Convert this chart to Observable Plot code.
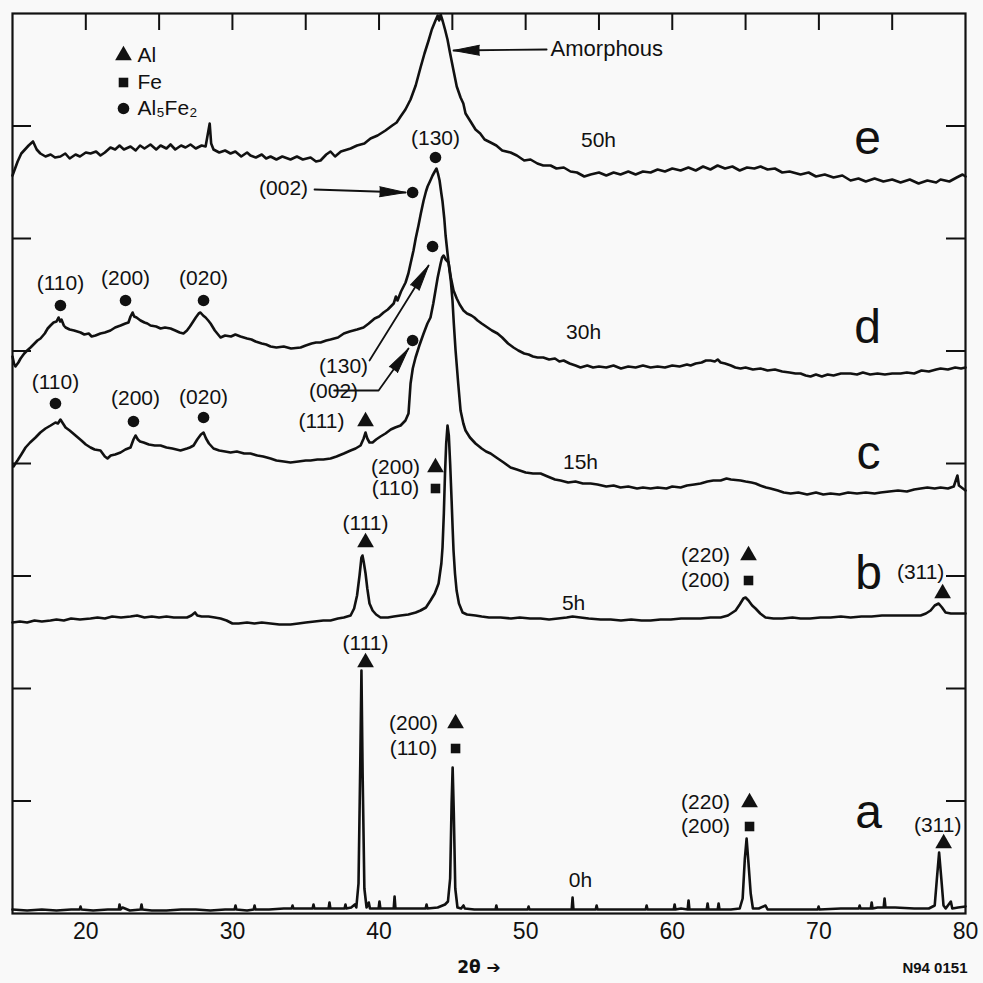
<!DOCTYPE html>
<html>
<head>
<meta charset="utf-8">
<script src="https://cdn.jsdelivr.net/npm/d3@7"></script>
<script src="https://cdn.jsdelivr.net/npm/@observablehq/plot@0.6"></script>
<style>
  html, body { margin: 0; padding: 0; background: #f9f9f9; }
  #chart svg { display: block; background: #f9f9f9; }
</style>
</head>
<body>
<div id="chart"></div>
<script>
// ---------------- DATA (2θ in degrees, intensity in arbitrary counts, traces stacked) ----------------
const trace50h = [[15.00,738],[15.15,744],[15.35,752],[15.6,760],[15.85,764],[16.1,768],[16.4,772],[16.65,764],[16.9,760],[17.25,757],[17.6,759],[17.9,756],[18.27,757],[18.6,760],[18.9,755],[19.3,759],[19.6,757],[20.0,761],[20.32,760],[20.7,762],[21.0,758],[21.3,761],[21.68,766],[22.0,764],[22.3,768],[22.6,764],[23.05,767],[23.4,763],[23.7,768],[24.0,765],[24.41,769],[24.8,764],[25.1,768],[25.5,765],[25.78,769],[26.1,764],[26.5,768],[26.8,766],[27.14,769],[27.5,765],[27.9,768],[28.17,767],[28.45,790],[28.55,770],[28.71,764],[29.1,761],[29.5,763],[29.87,760],[30.2,762],[30.6,757],[31.0,761],[31.23,758],[31.6,756],[32.0,759],[32.3,755],[32.6,757],[33.0,754],[33.4,757],[33.96,754],[34.4,757],[34.8,754],[35.33,756],[35.7,752],[36.01,753],[36.4,759],[36.69,762],[37.0,757],[37.4,762],[38.06,765],[38.5,768],[39.0,770],[39.42,775],[39.9,778],[40.44,783],[40.9,788],[41.2,791],[41.47,797],[41.8,804],[42.15,814],[42.5,828],[42.83,846],[43.1,860],[43.38,873],[43.6,884],[43.85,893],[44.0,898],[44.1,893],[44.2,899],[44.35,892],[44.5,884],[44.67,874],[44.85,860],[45.08,843],[45.3,827],[45.56,816],[45.75,810],[45.9,800],[46.2,793],[46.58,784],[46.9,780],[47.2,774],[47.61,771],[48.0,768],[48.4,763],[48.97,761],[49.4,758],[49.9,753],[50.33,754],[50.8,750],[51.2,748],[51.7,748],[52.1,745],[52.6,746],[53.06,742],[53.5,741],[54.0,737],[54.43,739],[55.0,741],[55.5,738],[56.0,741],[56.47,739],[57.0,742],[57.5,739],[58.0,742],[58.52,741],[59.0,744],[59.5,742],[60.0,745],[60.57,743],[61.1,746],[61.6,743],[62.1,747],[62.6,744],[63.09,748],[63.6,745],[64.1,747],[64.6,743],[65.1,746],[65.6,745],[66.02,747],[66.5,744],[67.0,745],[67.5,741],[68.0,742],[68.75,739],[69.3,741],[69.8,737],[70.4,739],[71.0,736],[71.6,738],[72.16,733],[72.7,735],[73.2,732],[73.8,735],[74.4,732],[75.0,734],[75.57,731],[76.2,734],[76.8,730],[77.4,733],[78.0,731],[78.3,734],[78.9,732],[79.4,736],[79.8,739],[80.0,737]];

const trace30h = [[15.00,557],[15.1,550],[15.2,547],[15.4,551],[15.55,555],[15.8,560],[16.0,563],[16.23,566],[16.5,570],[16.7,573],[16.91,575],[17.2,580],[17.4,585],[17.59,588],[17.8,591],[18.0,592],[18.14,596],[18.25,592],[18.34,594],[18.5,588],[18.62,586],[18.9,584],[19.2,583],[19.64,581],[19.9,579],[20.2,580],[20.4,577],[20.66,578],[21.0,580],[21.3,581],[21.68,583],[22.0,586],[22.37,588],[22.7,590],[22.91,591],[23.05,597],[23.19,601],[23.3,597],[23.46,596],[23.73,593],[24.0,591],[24.2,590],[24.41,588],[24.8,587],[25.1,585],[25.4,586],[25.78,585],[26.1,583],[26.4,581],[26.66,580],[26.9,583],[27.1,587],[27.28,591],[27.5,596],[27.7,600],[27.82,601],[28.0,598],[28.17,596],[28.35,593],[28.51,590],[28.8,583],[29.19,576],[29.5,578],[29.9,577],[30.2,579],[30.55,577],[31.0,575],[31.3,574],[31.58,572],[32.0,570],[32.3,569],[32.6,567],[33.0,566],[33.5,567],[34.0,565],[34.65,566],[35.0,568],[35.4,570],[35.7,571],[36.01,571],[36.4,573],[36.69,574],[37.2,576],[37.6,580],[38.0,582],[38.5,584],[38.94,586],[39.3,590],[39.7,595],[40.0,597],[40.31,601],[40.6,604],[41.0,610],[41.15,617],[41.26,613],[41.5,622],[41.81,631],[42.0,640],[42.15,650],[42.35,663],[42.5,675],[42.69,688],[42.85,700],[43.04,713],[43.2,722],[43.31,727],[43.5,733],[43.65,738],[43.8,742],[43.92,745],[44.02,740],[44.13,733],[44.25,720],[44.33,712],[44.45,695],[44.54,678],[44.65,663],[44.74,651],[44.9,636],[45.08,623],[45.3,615],[45.5,609],[45.76,603],[46.0,600],[46.3,598],[46.5,596],[46.72,593],[47.0,590],[47.4,586],[47.7,583],[48.08,580],[48.4,576],[48.8,570],[49.17,566],[49.5,563],[49.9,560],[50.2,559],[50.5,557],[50.81,556],[51.2,556],[51.6,554],[52.0,555],[52.3,552],[52.59,553],[53.0,550],[53.4,548],[53.74,546],[54.2,548],[54.6,546],[55.0,547],[55.5,546],[55.99,548],[56.5,545],[57.0,547],[57.5,546],[58.0,548],[58.52,546],[59.0,547],[59.5,546],[60.0,548],[60.5,547],[61.0,549],[61.25,548],[61.6,550],[62.0,551],[62.3,553],[62.61,553],[62.9,552],[63.1,554],[63.3,551],[63.6,550],[64.0,548],[64.3,546],[64.66,545],[65.0,546],[65.5,544],[66.02,545],[66.5,543],[67.0,544],[67.5,542],[68.0,541],[68.4,540],[68.75,540],[69.1,538],[69.43,537],[69.8,539],[70.2,537],[70.6,539],[71.0,538],[71.5,540],[72.16,540],[72.6,539],[73.0,541],[73.5,539],[74.0,540],[74.5,539],[75.0,540],[75.57,540],[76.0,541],[76.5,540],[77.0,543],[77.5,542],[78.0,544],[78.3,545],[78.8,544],[79.3,546],[79.7,545],[80.0,546]];

const trace15h = [[15.07,447],[15.2,450],[15.34,453],[15.6,459],[15.89,466],[16.2,471],[16.57,476],[16.9,481],[17.25,485],[17.6,488],[17.93,491],[18.1,490],[18.27,494],[18.4,491],[18.62,486],[18.9,483],[19.3,478],[19.7,473],[20.0,469],[20.32,466],[20.6,464],[21.0,463],[21.3,457],[21.48,455],[21.7,458],[22.0,459],[22.37,461],[22.7,464],[23.05,466],[23.25,474],[23.39,478],[23.55,474],[23.7,472],[23.94,471],[24.3,469],[24.7,468],[25.1,468],[25.5,466],[25.9,465],[26.46,463],[26.9,465],[27.1,466],[27.35,468],[27.6,474],[27.85,479],[28.03,481],[28.2,475],[28.4,470],[28.71,465],[29.1,463],[29.5,462],[29.87,461],[30.3,462],[30.8,460],[31.23,460],[31.7,458],[32.1,457],[32.6,455],[33.0,453],[33.5,452],[33.96,451],[34.5,452],[35.0,453],[35.33,453],[35.8,454],[36.2,454],[36.69,455],[37.1,457],[37.6,460],[38.06,463],[38.4,465],[38.74,468],[38.95,475],[39.08,481],[39.2,475],[39.35,471],[39.56,471],[39.8,474],[40.1,477],[40.44,480],[40.8,484],[41.1,486],[41.47,488],[41.8,493],[42.01,500],[42.15,530],[42.3,545],[42.49,556],[42.75,568],[43.04,580],[43.3,590],[43.51,596],[43.7,610],[43.85,623],[44.0,636],[44.2,650],[44.3,656],[44.4,658],[44.55,654],[44.74,651],[44.9,632],[45.01,613],[45.1,590],[45.22,563],[45.4,530],[45.56,503],[45.75,490],[45.90,483],[46.2,476],[46.58,470],[47.0,465],[47.3,462],[47.61,460],[48.0,456],[48.5,451],[48.97,446],[49.4,444],[50.0,441],[50.5,440],[51.02,440],[51.5,437],[52.0,434],[52.38,433],[52.9,431],[53.4,432],[53.9,430],[54.43,430],[54.9,429],[55.5,427],[56.0,428],[56.47,426],[57.0,427],[57.6,425],[58.0,426],[58.52,425],[59.0,426],[59.6,425],[60.0,427],[60.57,426],[61.0,428],[61.5,429],[61.93,430],[62.4,432],[62.8,433],[63.3,433],[63.7,435],[64.0,434],[64.66,433],[65.0,432],[65.4,431],[65.68,430],[66.0,428],[66.4,426],[66.7,425],[67.2,423],[67.6,421],[68.07,420],[68.6,421],[69.2,419],[69.8,421],[70.3,419],[70.8,420],[71.4,419],[72.0,421],[72.6,420],[73.2,421],[73.8,420],[74.21,421],[74.8,422],[75.4,423],[76.0,422],[76.5,424],[76.94,425],[77.4,426],[77.9,425],[78.3,426],[78.8,425],[79.2,427],[79.45,438],[79.55,428],[79.73,426],[80.0,423]];

const trace5h = [[15.00,291],[15.5,292],[16.0,291],[16.5,293],[17.0,292],[17.59,293],[18.0,294],[18.5,293],[19.0,295],[19.6,294],[20.32,295],[20.8,296],[21.3,295],[21.8,297],[22.4,296],[23.05,297],[23.5,298],[24.0,296],[24.5,297],[25.0,296],[25.5,297],[26.0,296],[26.46,296],[26.9,296],[27.2,298],[27.45,301],[27.6,298],[27.9,297],[28.37,297],[28.8,296],[29.19,295],[29.6,293],[30.0,290],[30.42,290],[31.0,291],[31.5,290],[32.0,291],[32.6,290],[33.2,289],[33.96,289],[34.5,290],[35.0,291],[35.6,292],[36.2,293],[36.69,293],[37.2,295],[37.6,296],[38.06,298],[38.3,305],[38.5,318],[38.67,338],[38.8,356],[38.87,358],[38.95,352],[39.08,340],[39.2,325],[39.35,310],[39.56,303],[39.8,299],[40.10,296],[40.6,296],[41.0,297],[41.47,298],[42.0,299],[42.5,301],[42.83,303],[43.2,306],[43.51,313],[43.8,320],[44.06,330],[44.25,350],[44.33,366],[44.42,400],[44.5,440],[44.58,470],[44.67,488],[44.76,478],[44.85,450],[44.95,413],[45.02,385],[45.08,363],[45.18,340],[45.29,323],[45.45,310],[45.70,301],[46.0,299],[46.58,298],[47.0,297],[47.5,296],[48.29,296],[49.0,295],[49.6,296],[50.3,295],[51.02,295],[51.6,294],[52.2,295],[52.8,296],[53.2,297],[53.74,296],[54.3,295],[55.11,294],[55.8,294],[56.5,293],[57.2,294],[57.9,293],[58.52,293],[59.2,294],[59.9,294],[60.6,295],[61.3,295],[61.93,295],[62.6,296],[63.30,296],[63.8,298],[64.32,303],[64.6,309],[64.85,315],[65.0,316],[65.2,313],[65.45,308],[65.68,305],[66.0,300],[66.36,296],[66.9,295],[67.5,295],[68.2,296],[68.75,295],[69.4,295],[70.1,296],[70.8,296],[71.5,297],[72.16,296],[72.9,297],[73.6,297],[74.3,298],[75.0,298],[75.7,298],[76.3,298],[76.94,298],[77.3,300],[77.62,303],[77.9,308],[78.17,310],[78.4,306],[78.64,301],[79.0,300],[79.5,300],[80.0,300]];

const trace0h = [[15,4],[16,3],[17,4],[18,3],[19,4],[19.58,4],[19.64,7],[19.7,4],[20.5,3],[21.5,4],[22.25,4],[22.3,9],[22.36,4],[22.5,6],[23.0,3],[23.74,4],[23.8,9],[23.86,4],[24.5,3],[25.5,3],[26.5,4],[27.5,4],[28.5,3],[29.5,4],[30.15,4],[30.21,8],[30.27,4],[31.0,3],[31.45,4],[31.51,8],[31.57,4],[32.5,4],[33.5,5],[34.04,5],[34.1,8],[34.16,5],[35.0,5],[35.47,5],[35.53,9],[35.59,5],[36.0,5],[36.56,5],[36.62,11],[36.68,5],[37.2,5],[37.65,5],[37.71,9],[37.77,5],[38.1,6],[38.35,9],[38.45,6],[38.6,30],[38.72,150],[38.8,243],[38.88,140],[39.0,25],[39.15,6],[39.3,11],[39.38,5],[39.6,5],[39.97,5],[40.03,12],[40.09,5],[40.5,5],[41.0,5],[41.06,17],[41.12,5],[41.8,5],[42.5,5],[43.18,5],[43.24,9],[43.3,5],[44.0,6],[44.5,9],[44.7,12],[44.85,35],[44.95,110],[45.02,146],[45.1,100],[45.2,25],[45.35,6],[45.6,5],[45.76,8],[45.85,5],[46.5,4],[47.2,4],[47.95,4],[48.0,8],[48.06,4],[49.0,4],[50.14,4],[50.2,7],[50.26,4],[51.5,4],[52.5,4],[53.14,4],[53.2,16],[53.26,4],[54.0,4],[54.78,4],[54.84,8],[54.9,4],[56,4],[57.0,4],[58.19,4],[58.25,8],[58.31,4],[59.5,4],[60.1,4],[60.16,9],[60.22,4],[60.6,5],[61.05,4],[61.11,13],[61.17,4],[61.8,4],[62.35,4],[62.41,10],[62.47,4],[63.1,4],[63.16,10],[63.22,4],[64.0,4],[64.6,5],[64.8,15],[64.95,55],[65.07,75],[65.2,50],[65.35,20],[65.5,5],[65.9,5],[66.36,8],[66.5,4],[67.5,4],[68.5,4],[69.92,4],[69.98,7],[70.04,4],[71.5,5],[72.72,5],[72.78,8],[72.84,5],[73.54,5],[73.6,11],[73.66,5],[74.0,6],[74.42,6],[74.48,15],[74.54,6],[75.2,6],[76.5,5],[77.5,5],[77.9,8],[78.05,35],[78.2,61],[78.35,35],[78.5,8],[78.65,5],[79.0,12],[79.1,5],[79.5,6],[80.0,7]];

const seriesNames = ["0h", "5h", "15h", "30h", "50h"];

// x tick labels (bottom) and inner tick marks (top / sides)
const xTickLabels = [20, 30, 40, 50, 60, 70, 80];
const xTopTicks = [20, 25, 30, 35, 40, 45, 50, 55, 60, 65, 70, 75];
const yTicks = [112.5, 225, 337.5, 450, 562.5, 675, 787.5];

// legend
const legendKeys = [
  {t: 22.57, i: 858, phase: "Al", name: "Al"},
  {t: 22.57, i: 831, phase: "Fe", name: "Fe"},
  {t: 22.57, i: 805, phase: "Al5Fe2", name: "Al₅Fe₂"}
];

// Miller-index labels (text centre)
const hklLabels = [
  {t: 43.85, i: 775, text: "(130)"},
  {t: 33.49, i: 725, text: "(002)"},
  {t: 18.27, i: 630, text: "(110)"},
  {t: 22.71, i: 635, text: "(200)"},
  {t: 28.03, i: 635, text: "(020)"},
  {t: 17.93, i: 531, text: "(110)"},
  {t: 23.39, i: 515, text: "(200)"},
  {t: 28.03, i: 516, text: "(020)"},
  {t: 37.58, i: 547, text: "(130)"},
  {t: 36.90, i: 522, text: "(002)"},
  {t: 36.08, i: 492, text: "(111)"},
  {t: 41.13, i: 446, text: "(200)"},
  {t: 41.13, i: 425, text: "(110)"},
  {t: 39.08, i: 390, text: "(111)"},
  {t: 62.27, i: 358, text: "(220)"},
  {t: 62.27, i: 333, text: "(200)"},
  {t: 76.94, i: 341, text: "(311)"},
  {t: 39.08, i: 270, text: "(111)"},
  {t: 42.35, i: 190, text: "(200)"},
  {t: 42.35, i: 165, text: "(110)"},
  {t: 62.27, i: 111, text: "(220)"},
  {t: 62.27, i: 87,  text: "(200)"},
  {t: 78.10, i: 88,  text: "(311)"}
];

// phase markers
const peakMarkers = [
  {t: 43.85, i: 756, phase: "Al5Fe2"},
  {t: 42.29, i: 721, phase: "Al5Fe2"},
  {t: 18.27, i: 608, phase: "Al5Fe2"},
  {t: 22.71, i: 613, phase: "Al5Fe2"},
  {t: 28.03, i: 613, phase: "Al5Fe2"},
  {t: 17.93, i: 510, phase: "Al5Fe2"},
  {t: 23.25, i: 492, phase: "Al5Fe2"},
  {t: 28.03, i: 496, phase: "Al5Fe2"},
  {t: 43.65, i: 667, phase: "Al5Fe2"},
  {t: 42.29, i: 573, phase: "Al5Fe2"},
  {t: 39.08, i: 492, phase: "Al"},
  {t: 43.85, i: 446, phase: "Al"},
  {t: 43.85, i: 425, phase: "Fe"},
  {t: 39.08, i: 371, phase: "Al"},
  {t: 65.20, i: 358, phase: "Al"},
  {t: 65.20, i: 333, phase: "Fe"},
  {t: 78.44, i: 320, phase: "Al"},
  {t: 39.08, i: 251, phase: "Al"},
  {t: 45.22, i: 190, phase: "Al"},
  {t: 45.22, i: 165, phase: "Fe"},
  {t: 65.27, i: 111, phase: "Al"},
  {t: 65.27, i: 87,  phase: "Fe"},
  {t: 78.51, i: 70,  phase: "Al"}
];

// trace labels
const hourLabels = [
  {t: 54.97, i: 773, text: "50h"},
  {t: 53.95, i: 581, text: "30h"},
  {t: 53.74, i: 451, text: "15h"},
  {t: 53.27, i: 310, text: "5h"},
  {t: 53.74, i: 33,  text: "0h"}
];
const letterLabels = [
  {t: 73.32, i: 775, text: "e"},
  {t: 73.32, i: 586, text: "d"},
  {t: 73.39, i: 460, text: "c"},
  {t: 73.39, i: 340, text: "b"},
  {t: 73.39, i: 101, text: "a"}
];

// annotation arrows (polyline points, last point = tip)
const arrowPaths = [
  {id: "amorphous", pts: [[51.43, 864], [45.08, 863]]},
  {id: "d002", pts: [[35.60, 724], [41.81, 721]]},
  {id: "c130", pts: [[39.35, 553], [43.38, 648]]},
  {id: "c002", pts: [[36.94, 523], [39.97, 523], [42.01, 565]]}
];
const notes = [{t: 51.70, i: 865, text: "Amorphous"}];

// ---------------- LAYOUT ----------------
const W = 983, H = 983;
const M = {top: 13, right: 18, bottom: 70, left: 12};
const xDomain = [15, 80], yDomain = [0, 900];
const innerW = W - M.left - M.right, innerH = H - M.top - M.bottom;
const pxPerDeg = innerW / (xDomain[1] - xDomain[0]);
const pxPerCount = innerH / (yDomain[1] - yDomain[0]);
const FONT = "'Liberation Sans', Arial, Helvetica, sans-serif";
const INK = "#111";

const traces = [trace0h, trace5h, trace15h, trace30h, trace50h];
const rows = traces.flatMap((tr, k) => tr.map(([t, i]) => ({t, i, s: seriesNames[k]})));
const shaftRows = arrowPaths.flatMap(a => a.pts.map(([t, i]) => ({t, i, id: a.id})));
const heads = arrowPaths.map(a => {
  const p = a.pts[a.pts.length - 1], q = a.pts[a.pts.length - 2];
  const angle = Math.atan2((p[0] - q[0]) * pxPerDeg, (p[1] - q[1]) * pxPerCount) * 180 / Math.PI;
  return {t: p[0], i: p[1], angle};
});
const allMarkers = peakMarkers.concat(legendKeys.map(d => ({t: d.t, i: d.i, phase: d.phase})));

const chart = Plot.plot({
  width: W, height: H,
  marginTop: M.top, marginRight: M.right, marginBottom: M.bottom, marginLeft: M.left,
  style: {background: "#f9f9f9", fontFamily: FONT, color: INK},
  x: {domain: xDomain},
  y: {domain: yDomain, axis: null},
  marks: [
    Plot.axisX(xTickLabels, {anchor: "bottom", tickSize: 0, tickPadding: 9, fontSize: 23, label: null, tickFormat: d => String(d)}),
    Plot.ruleX(xTopTicks, {x: d => d, insetBottom: innerH - 17, stroke: INK, strokeWidth: 2}),
    Plot.ruleY(yTicks, {y: d => d, insetRight: innerW - 19, stroke: INK, strokeWidth: 2}),
    Plot.ruleY(yTicks, {y: d => d, insetLeft: innerW - 19, stroke: INK, strokeWidth: 2}),
    Plot.line(rows, {x: "t", y: "i", z: "s", stroke: INK, strokeWidth: 2.6, strokeLinejoin: "round", strokeLinecap: "round"}),
    Plot.frame({stroke: INK, strokeWidth: 2.2}),
    Plot.dot(allMarkers.filter(d => d.phase === "Al"), {x: "t", y: "i", symbol: "triangle", r: 6.2, fill: INK, stroke: "none"}),
    Plot.dot(allMarkers.filter(d => d.phase === "Fe"), {x: "t", y: "i", symbol: "square", r: 5.4, fill: INK, stroke: "none"}),
    Plot.dot(allMarkers.filter(d => d.phase === "Al5Fe2"), {x: "t", y: "i", symbol: "circle", r: 5.8, fill: INK, stroke: "none"}),
    Plot.text(legendKeys, {x: "t", y: "i", text: "name", textAnchor: "start", dx: 14, fontSize: 21, fill: INK}),
    Plot.text(hklLabels, {x: "t", y: "i", text: "text", fontSize: 21, fill: INK}),
    Plot.text(hourLabels, {x: "t", y: "i", text: "text", fontSize: 21, fill: INK}),
    Plot.text(letterLabels, {x: "t", y: "i", text: "text", fontSize: 48, fill: INK}),
    Plot.text(notes, {x: "t", y: "i", text: "text", textAnchor: "start", fontSize: 22, fill: INK}),
    Plot.line(shaftRows, {x: "t", y: "i", z: "id", stroke: INK, strokeWidth: 1.8}),
    Plot.vector(heads, {x: "t", y: "i", rotate: "angle", length: 26, r: 5, shape: "spike", anchor: "end", fill: INK, stroke: INK, strokeWidth: 1}),
    Plot.text(["2θ ➔"], {frameAnchor: "bottom", dx: -10, dy: 59, fontSize: 17, fontWeight: "bold", fontFamily: "'DejaVu Sans', sans-serif", fill: INK}),
    Plot.text(["N94 0151"], {frameAnchor: "bottom-right", textAnchor: "end", dx: 2, dy: 59, fontSize: 15, fontWeight: "bold", fill: INK})
  ]
});
document.getElementById("chart").appendChild(chart);
</script>
</body>
</html>
